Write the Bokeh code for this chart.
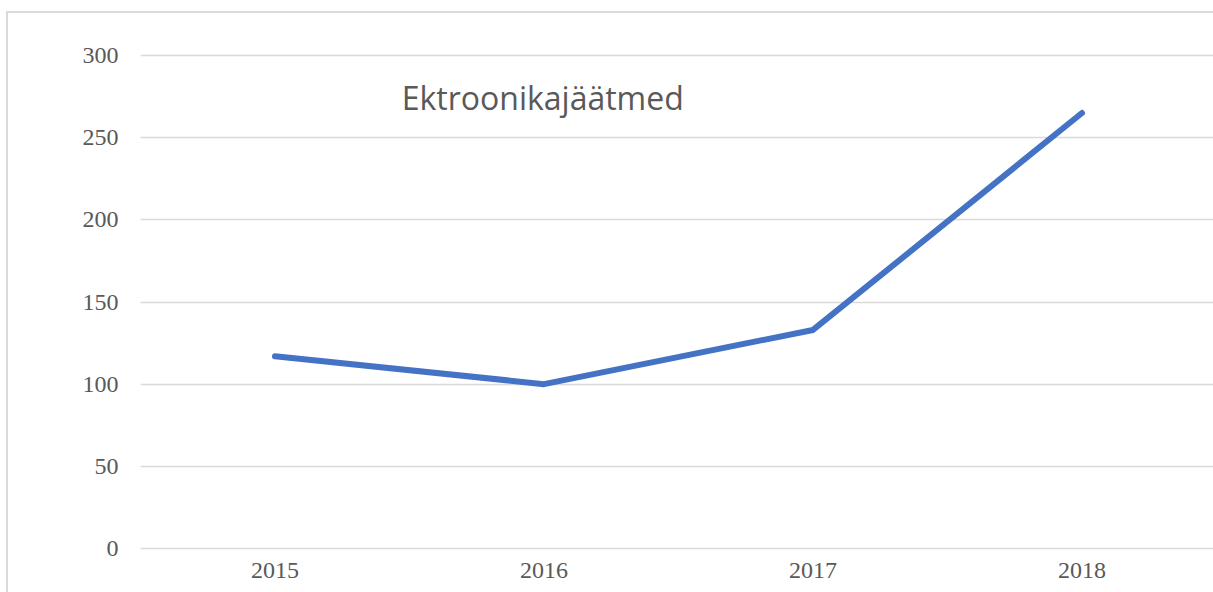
from bokeh.plotting import figure
from bokeh.models import Range1d, FixedTicker, Label
from bokeh.embed import file_html
from bokeh.resources import INLINE

years = ["2015", "2016", "2017", "2018"]
values = [117, 100, 133, 265]
y_ticks = [0, 50, 100, 150, 200, 250, 300]
title_text = "Ektroonikajäätmed"

xs = [i + 0.5 for i in range(len(years))]

grad = "linear-gradient(#d9d9d9, #d9d9d9)"
p = figure(width=1213, height=592, output_backend="svg", toolbar_location=None,
           x_range=Range1d(0, 3.989), y_range=Range1d(-4.26, 321.3),
           min_border_left=140, min_border_right=0, min_border_top=20, min_border_bottom=37,
           styles={"background": f"{grad} 6px 11px / 2px 100% no-repeat, "
                                 f"{grad} 6px 11px / 100% 2px no-repeat, white"})
p.outline_line_color = None
p.background_fill_color = "white"
p.border_fill_color = None

p.line(xs, values, line_color="#4472C4", line_width=6, line_cap="round", line_join="round")

p.xgrid.grid_line_color = None
p.ygrid.grid_line_color = "#d9d9d9"
p.ygrid.grid_line_width = 1.3
p.ygrid.ticker = FixedTicker(ticks=y_ticks)

p.yaxis.ticker = FixedTicker(ticks=y_ticks)
p.xaxis.ticker = FixedTicker(ticks=xs)
p.xaxis.major_label_overrides = {x: y for x, y in zip(xs, years)}

for ax in (p.xaxis[0], p.yaxis[0]):
    ax.axis_line_color = None
    ax.major_tick_line_color = None
    ax.minor_tick_line_color = None
    ax.major_tick_out = 0
    ax.major_tick_in = 0
    ax.minor_tick_out = 0
    ax.major_label_text_font = "Liberation Serif"
    ax.major_label_text_font_size = "24px"
    ax.major_label_text_color = "#595959"
p.yaxis.major_label_standoff = 22
p.xaxis.major_label_standoff = 7

p.add_layout(Label(x=0.971, y=274.4, text=title_text, text_font="Open Sans",
                   text_font_size="32px", text_color="#595959", text_baseline="alphabetic"))

open("out.html", "w").write(file_html(p, INLINE))
